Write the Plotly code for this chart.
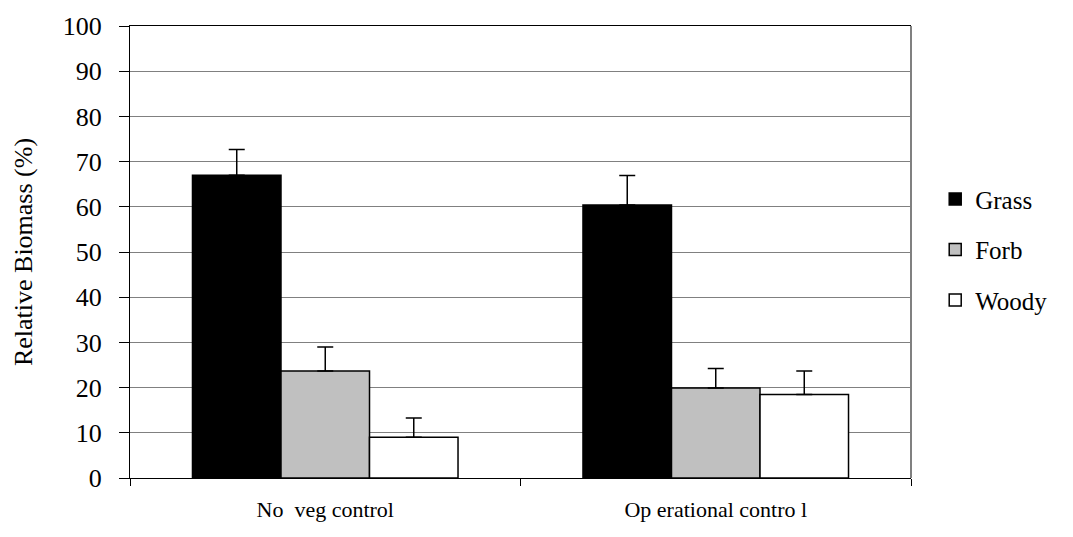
import plotly.graph_objects as go

categories = ["No  veg control", "Op erational contro l"]
series_names = ["Grass", "Forb", "Woody"]
grass = [67.0, 60.4]
forb = [23.7, 19.9]
woody = [9.0, 18.5]
grass_err = [5.7, 6.5]
forb_err = [5.3, 4.3]
woody_err = [4.3, 5.2]
y_ticks = [0, 10, 20, 30, 40, 50, 60, 70, 80, 90, 100]

colors = ["#000000", "#c0c0c0", "#ffffff"]
values = [grass, forb, woody]
errors = [grass_err, forb_err, woody_err]

FONT = "Liberation Serif, Times New Roman, serif"

fig = go.Figure()
for i, name in enumerate(series_names):
    fig.add_trace(go.Bar(
        x=categories, y=values[i], name=name,
        marker=dict(color=colors[i], line=dict(color="#000000", width=1.5)),
        error_y=dict(type="data", array=errors[i], arrayminus=[0] * len(errors[i]),
                     symmetric=False, color="#000000", thickness=1.5, width=8),
        legendgroup=name,
    ))

fig.update_layout(
    width=1073, height=537,
    margin=dict(l=122, r=170, t=18, b=67),
    paper_bgcolor="white", plot_bgcolor="white",
    barmode="group", bargap=0.32, bargroupgap=0,
    font=dict(family=FONT, size=24, color="#000000"),
    legend=dict(x=1.031, y=0.505, xanchor="left", yanchor="middle",
                font=dict(family=FONT, size=25), tracegroupgap=15,
                itemclick=False),
    showlegend=True,
)
fig.update_xaxes(
    showline=True, linecolor="#000000", linewidth=1, mirror=True,
    ticks="outside", ticklen=7, tickcolor="#000000", tickson="boundaries",
    tickfont=dict(family=FONT, size=22), ticklabelstandoff=12,
    showgrid=False, automargin=False,
)
fig.update_yaxes(
    range=[0, 100], tickvals=y_ticks, showline=True, linecolor="#000000", linewidth=1,
    ticks="outside", ticklen=10, tickcolor="#000000",
    showgrid=True, gridcolor="#808080", gridwidth=1,
    tickfont=dict(family=FONT, size=26), ticklabelstandoff=12,
    title=dict(text="Relative Biomass (%)", font=dict(family=FONT, size=26), standoff=22),
    zeroline=False, automargin=False,
)
fig.add_shape(type="line", xref="paper", yref="paper", x0=1, x1=1, y0=0, y1=1,
              line=dict(color="#808080", width=2))

fig.write_html("out.html")
